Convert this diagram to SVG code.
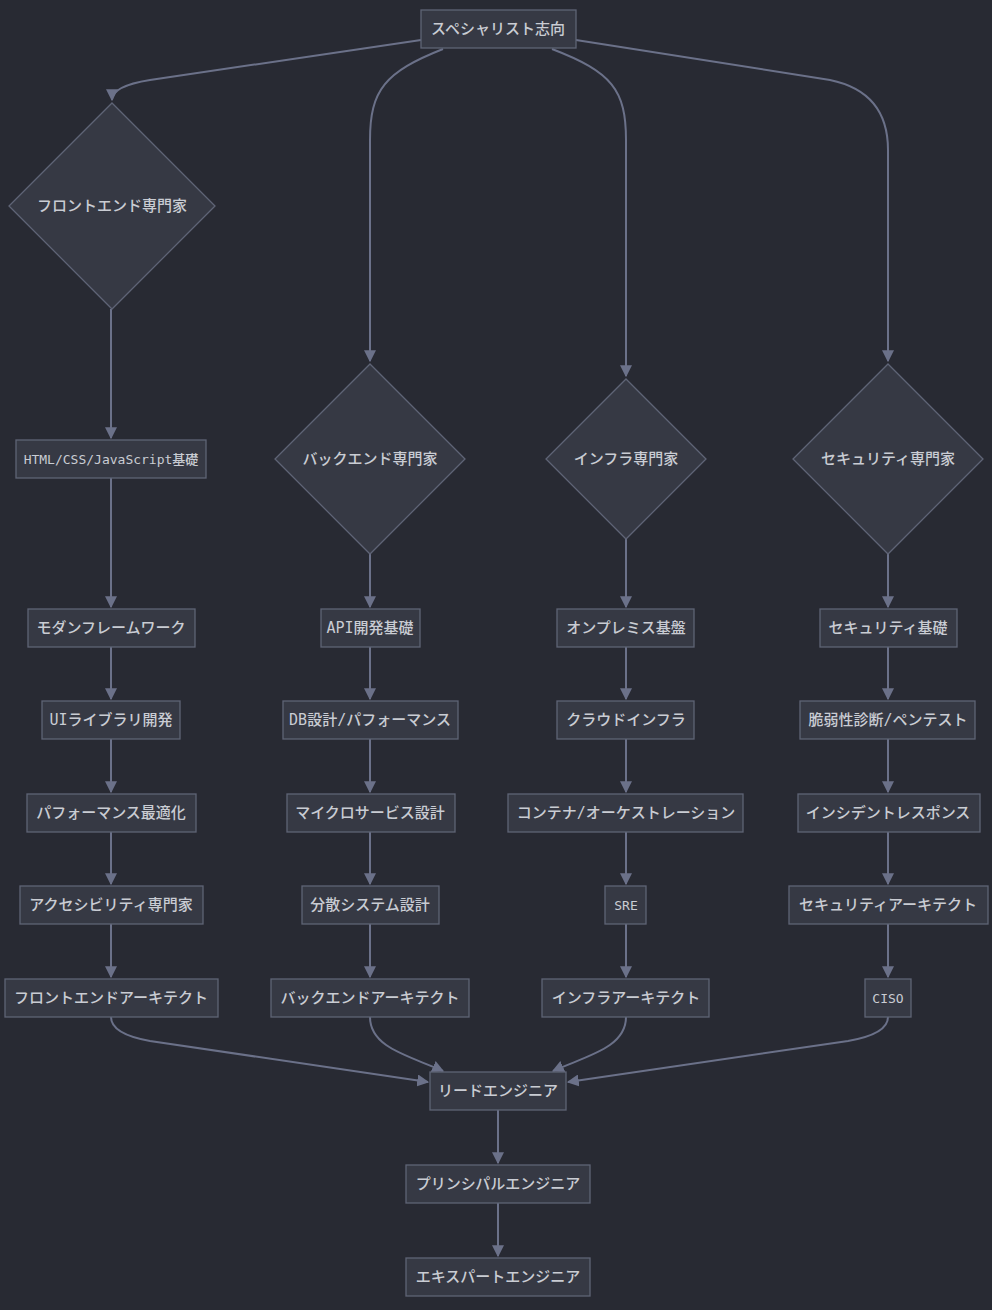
<svg xmlns="http://www.w3.org/2000/svg" width="992" height="1310" viewBox="0 0 992 1310">
<defs>
<style>
.n rect,.n polygon{fill:#363944;stroke:#5f6476;stroke-width:1.3}
.n text{fill:#c9ccd3;font-family:"DejaVu Sans Mono","Noto Sans CJK JP",monospace;font-size:15px;font-weight:500;text-anchor:middle;dominant-baseline:central}
#edges path{fill:none;stroke:#6b7189;stroke-width:2}
</style>
<marker id="ah" viewBox="0 0 10 10" refX="9" refY="5" markerWidth="12" markerHeight="12" markerUnits="userSpaceOnUse" orient="auto">
<path d="M0,0 L10,5 L0,10 z" fill="#6b7189"/>
</marker>
</defs>
<rect width="992" height="1310" fill="#282a33"/>
<g id="edges">
<path d="M421,40 L150,80 Q112,86 112,100" marker-end="url(#ah)"/>
<path d="M443,49 C385,72 370,90 370,140 L370,361" marker-end="url(#ah)"/>
<path d="M552,49 C612,72 626,90 626,140 L626,376" marker-end="url(#ah)"/>
<path d="M576,40 L830,80 Q888,92 888,150 L888,361" marker-end="url(#ah)"/>
<path d="M111,309 L111,438" marker-end="url(#ah)"/>
<path d="M111,478 L111,607" marker-end="url(#ah)"/>
<path d="M111,647 L111,699" marker-end="url(#ah)"/>
<path d="M111,739 L111,792" marker-end="url(#ah)"/>
<path d="M111,832 L111,884" marker-end="url(#ah)"/>
<path d="M111,924 L111,977" marker-end="url(#ah)"/>
<path d="M370,554 L370,607" marker-end="url(#ah)"/>
<path d="M370,647 L370,699" marker-end="url(#ah)"/>
<path d="M370,739 L370,792" marker-end="url(#ah)"/>
<path d="M370,832 L370,884" marker-end="url(#ah)"/>
<path d="M370,924 L370,977" marker-end="url(#ah)"/>
<path d="M626,539 L626,607" marker-end="url(#ah)"/>
<path d="M626,647 L626,699" marker-end="url(#ah)"/>
<path d="M626,739 L626,792" marker-end="url(#ah)"/>
<path d="M626,832 L626,884" marker-end="url(#ah)"/>
<path d="M626,924 L626,977" marker-end="url(#ah)"/>
<path d="M888,554 L888,607" marker-end="url(#ah)"/>
<path d="M888,647 L888,699" marker-end="url(#ah)"/>
<path d="M888,739 L888,792" marker-end="url(#ah)"/>
<path d="M888,832 L888,884" marker-end="url(#ah)"/>
<path d="M888,924 L888,977" marker-end="url(#ah)"/>
<path d="M111,1017 Q111,1034 150,1041 L428,1082" marker-end="url(#ah)"/>
<path d="M370,1017 C370,1048 410,1056 443,1071" marker-end="url(#ah)"/>
<path d="M626,1017 C626,1048 586,1056 553,1071" marker-end="url(#ah)"/>
<path d="M888,1017 Q888,1034 848,1041 L568,1082" marker-end="url(#ah)"/>
<path d="M498,1110 L498,1163" marker-end="url(#ah)"/>
<path d="M498,1203 L498,1256" marker-end="url(#ah)"/>
</g>
<g id="n0" class="n"><rect x="421" y="10" width="155" height="38"/><text x="498" y="29">スペシャリスト志向</text></g>
<g id="n1" class="n"><polygon points="112,103 215,206 112,309 9,206"/><text x="112" y="206">フロントエンド専門家</text></g>
<g id="n2" class="n"><polygon points="370,364 465,459 370,554 275,459"/><text x="370" y="459">バックエンド専門家</text></g>
<g id="n3" class="n"><polygon points="626,379 706,459 626,539 546,459"/><text x="626" y="459">インフラ専門家</text></g>
<g id="n4" class="n"><polygon points="888,364 983,459 888,554 793,459"/><text x="888" y="459">セキュリティ専門家</text></g>
<g id="f1" class="n"><rect x="16" y="440" width="190" height="38"/><text x="111" y="459" style="font-size:13px">HTML/CSS/JavaScript基礎</text></g>
<g id="f2" class="n"><rect x="28" y="609" width="167" height="38"/><text x="111" y="628">モダンフレームワーク</text></g>
<g id="f3" class="n"><rect x="42" y="701" width="138" height="38"/><text x="111" y="720">UIライブラリ開発</text></g>
<g id="f4" class="n"><rect x="27" y="794" width="169" height="38"/><text x="111" y="813">パフォーマンス最適化</text></g>
<g id="f5" class="n"><rect x="20" y="886" width="183" height="38"/><text x="111" y="905">アクセシビリティ専門家</text></g>
<g id="f6" class="n"><rect x="5" y="979" width="213" height="38"/><text x="111" y="998">フロントエンドアーキテクト</text></g>
<g id="b1" class="n"><rect x="321" y="609" width="99" height="38"/><text x="370" y="628">API開発基礎</text></g>
<g id="b2" class="n"><rect x="283" y="701" width="175" height="38"/><text x="370" y="720">DB設計/パフォーマンス</text></g>
<g id="b3" class="n"><rect x="287" y="794" width="168" height="38"/><text x="370" y="813">マイクロサービス設計</text></g>
<g id="b4" class="n"><rect x="302" y="886" width="137" height="38"/><text x="370" y="905">分散システム設計</text></g>
<g id="b5" class="n"><rect x="271" y="979" width="198" height="38"/><text x="370" y="998">バックエンドアーキテクト</text></g>
<g id="i1" class="n"><rect x="557" y="609" width="137" height="38"/><text x="626" y="628">オンプレミス基盤</text></g>
<g id="i2" class="n"><rect x="557" y="701" width="137" height="38"/><text x="626" y="720">クラウドインフラ</text></g>
<g id="i3" class="n"><rect x="508" y="794" width="235" height="38"/><text x="626" y="813">コンテナ/オーケストレーション</text></g>
<g id="i4" class="n"><rect x="605" y="886" width="41" height="38"/><text x="626" y="905" style="font-size:13px">SRE</text></g>
<g id="i5" class="n"><rect x="542" y="979" width="167" height="38"/><text x="626" y="998">インフラアーキテクト</text></g>
<g id="s1" class="n"><rect x="820" y="609" width="137" height="38"/><text x="888" y="628">セキュリティ基礎</text></g>
<g id="s2" class="n"><rect x="800" y="701" width="175" height="38"/><text x="888" y="720">脆弱性診断/ペンテスト</text></g>
<g id="s3" class="n"><rect x="798" y="794" width="182" height="38"/><text x="888" y="813">インシデントレスポンス</text></g>
<g id="s4" class="n"><rect x="789" y="886" width="199" height="38"/><text x="888" y="905">セキュリティアーキテクト</text></g>
<g id="s5" class="n"><rect x="865" y="979" width="46" height="38"/><text x="888" y="998" style="font-size:13px">CISO</text></g>
<g id="l1" class="n"><rect x="430" y="1072" width="136" height="38"/><text x="498" y="1091">リードエンジニア</text></g>
<g id="l2" class="n"><rect x="406" y="1165" width="184" height="38"/><text x="498" y="1184">プリンシパルエンジニア</text></g>
<g id="l3" class="n"><rect x="406" y="1258" width="184" height="38"/><text x="498" y="1277">エキスパートエンジニア</text></g>
</svg>
